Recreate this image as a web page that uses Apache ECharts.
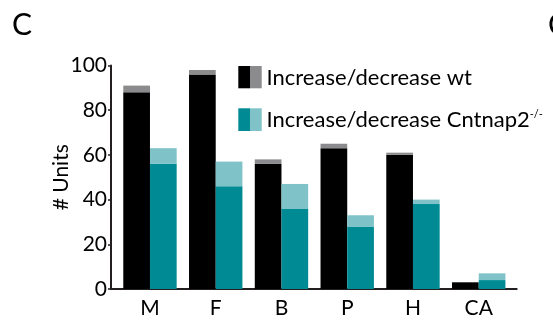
<!DOCTYPE html>
<html>
<head>
<meta charset="utf-8">
<script src="https://cdn.jsdelivr.net/npm/echarts@6/dist/echarts.min.js"></script>
<style>
  html, body { margin: 0; padding: 0; background: #fff; }
  #chart { width: 553px; height: 322px; }
</style>
</head>
<body>
<div id="chart"></div>
<script>
// Unit counts per region
const regions = ['M', 'F', 'B', 'P', 'H', 'CA'];
const wtIncrease = [88, 96, 56, 63, 60, 3];
const wtDecrease = [3, 2, 2, 2, 1, 0];
const koIncrease = [56, 46, 36, 28, 38, 4];
const koDecrease = [7, 11, 11, 5, 2, 3];
const yTicks = [0, 20, 40, 60, 80, 100];

const FONT = 'Lato';
const AXIS = '#231f20';
const INK = '#000';
const BLACK = '#000000';
const GREY = '#8b8b8d';
const TEAL = '#008a94';
const TEAL_LIGHT = '#7fc3c8';

const chart = echarts.init(document.getElementById('chart'), null, { renderer: 'canvas' });

const barW = 26.7;
function bar(name, data, stack, color) {
  return {
    name, type: 'bar', data, stack,
    xAxisIndex: 0, yAxisIndex: 0,
    barWidth: barW, barGap: '0%',
    itemStyle: { color },
    emphasis: { disabled: true }
  };
}

chart.setOption({
  animation: false,
  textStyle: { fontFamily: FONT },
  grid: [
    { left: 117.1, right: 41.4, top: 65.5, bottom: 33 },
    { left: 111, right: 36.3, top: 65.5, bottom: 33 }
  ],
  xAxis: [
    {
      type: 'category', gridIndex: 0, data: regions,
      axisLine: { show: false }, axisTick: { show: false },
      axisLabel: { color: INK, fontSize: 21, fontFamily: FONT, margin: 9 }
    },
    {
      type: 'value', gridIndex: 1, min: 0, max: 1,
      axisLine: { show: true, lineStyle: { color: AXIS, width: 2 } },
      axisTick: { show: false }, axisLabel: { show: false }, splitLine: { show: false }
    }
  ],
  yAxis: [
    { type: 'value', gridIndex: 0, min: 0, max: 100, show: false },
    {
      type: 'value', gridIndex: 1, min: 0, max: 100, interval: 20,
      axisLine: { show: true, lineStyle: { color: AXIS, width: 2 } },
      axisTick: { show: true, length: 3, lineStyle: { color: AXIS, width: 1.5 } },
      axisLabel: {
        color: INK, fontSize: 21, fontFamily: FONT, margin: 4,
        formatter: v => (yTicks.includes(v) ? String(v) : '')
      },
      splitLine: { show: false },
      name: '# Units', nameLocation: 'middle', nameGap: 39, nameMoveOverlap: false,
      nameTextStyle: { color: INK, fontSize: 21, fontFamily: FONT }
    }
  ],
  series: [
    bar('wt increase', wtIncrease, 'wt', BLACK),
    bar('wt decrease', wtDecrease, 'wt', GREY),
    bar('Cntnap2 increase', koIncrease, 'ko', TEAL),
    bar('Cntnap2 decrease', koDecrease, 'ko', TEAL_LIGHT)
  ],
  graphic: [
    { type: 'text', left: 12, top: 10, style: { text: 'C', fontSize: 30, fontFamily: FONT, fill: INK } },
    { type: 'text', left: 548, top: 10, style: { text: 'C', fontSize: 30, fontFamily: FONT, fill: INK } },
    // legend swatches: increase / decrease halves
    { type: 'rect', shape: { x: 238.3, y: 66, width: 11.7, height: 22.3 }, style: { fill: BLACK } },
    { type: 'rect', shape: { x: 250, y: 66, width: 11.7, height: 22.3 }, style: { fill: GREY } },
    { type: 'rect', shape: { x: 238.3, y: 108.3, width: 11.7, height: 22.7 }, style: { fill: TEAL } },
    { type: 'rect', shape: { x: 250, y: 108.3, width: 11.7, height: 22.7 }, style: { fill: TEAL_LIGHT } },
    {
      type: 'text', x: 266.5, y: 78, style: {
        text: 'Increase/decrease wt', fontSize: 22, fontFamily: FONT, fill: INK,
        verticalAlign: 'middle'
      }
    },
    {
      type: 'text', x: 266.5, y: 120, style: {
        text: '{m|Increase/decrease Cntnap2}{s|-/-}',
        verticalAlign: 'middle',
        rich: {
          m: { fontSize: 22, fontFamily: FONT, fill: INK },
          s: { fontSize: 11, fontFamily: FONT, fill: INK, verticalAlign: 'top', padding: [0, 0, 12, 0] }
        }
      }
    }
  ]
});
</script>
</body>
</html>
